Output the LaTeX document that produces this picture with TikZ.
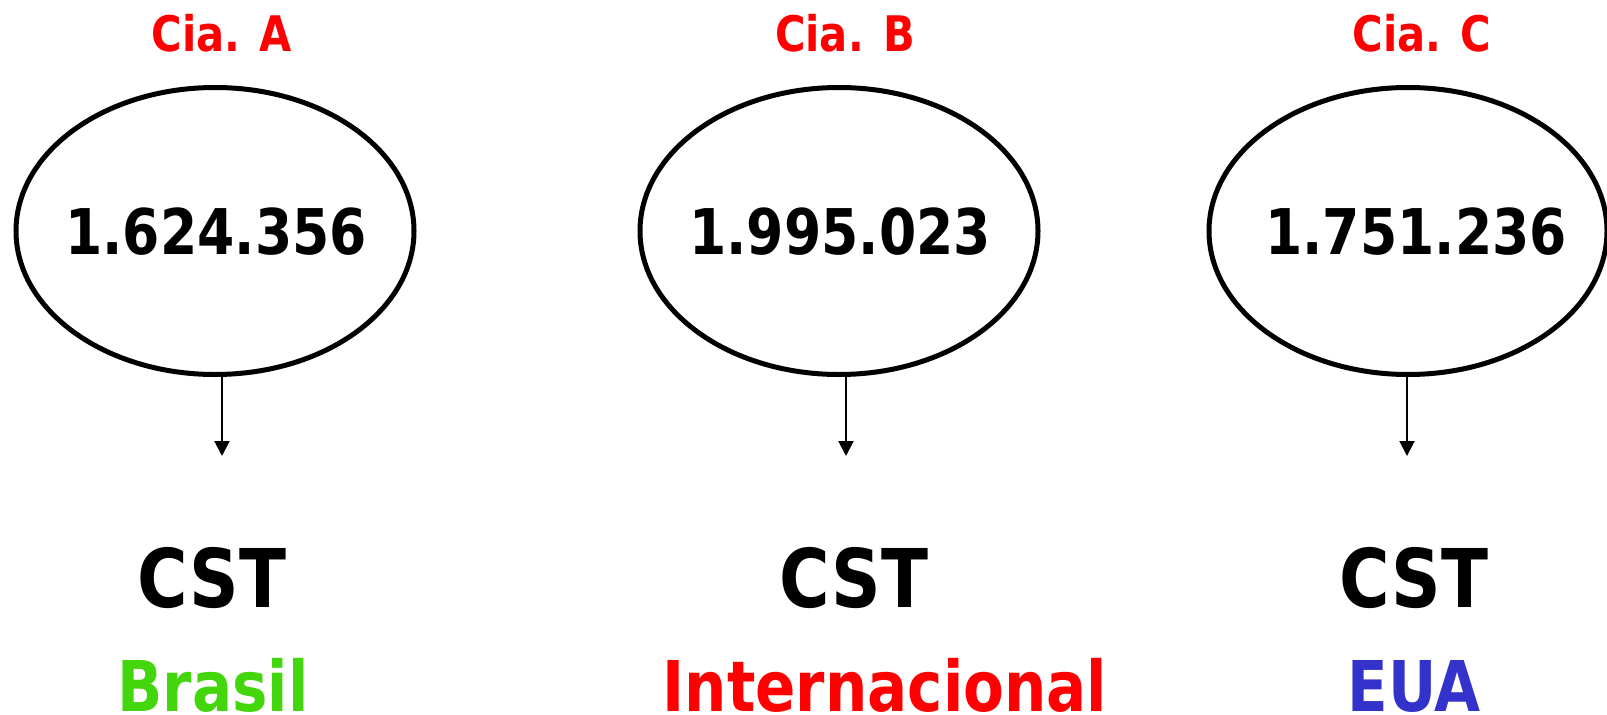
\documentclass[tikz,border=0pt]{standalone}
\usepackage{fontspec}
\setmainfont{DejaVu Sans}[FakeStretch=0.85]
\usetikzlibrary{shapes.geometric,arrows.meta}
\definecolor{ciared}{HTML}{FF0000}
\definecolor{brgreen}{HTML}{44D60C}
\definecolor{euablue}{HTML}{3333CC}
\tikzset{
  x=1pt, y=-1pt,
  cia/.style={anchor=base, text=ciared, font=\bfseries\fontsize{49}{55}\selectfont, inner sep=0},
  oval/.style={ellipse, draw, line width=5pt, minimum width=398pt, minimum height=287pt, inner sep=0},
  num/.style={anchor=base, inner sep=0, font=\bfseries\fontsize{63}{70}\selectfont},
  cst/.style={anchor=base, font=\bfseries\fontsize{81}{90}\selectfont, inner sep=0},
  place/.style={anchor=base, text depth=0pt, font=\bfseries\fontsize{70}{78}\selectfont, inner sep=0},
  arr/.style={line width=2pt, -{Triangle[length=15pt,width=15pt]}}
}
\begin{document}
\begin{tikzpicture}
\useasboundingbox (0,0) rectangle (1607,715);
% ovals
\node[oval] (ea) at (215,231) {};
\node[oval] (eb) at (839,231) {};
\node[oval] (ec) at (1408,231) {};
% numbers
\node[num] (na) at (216,254) {1.624.356};
\node[num] (nb) at (840,254) {1.995.023};
\node[num] (nc) at (1416,254) {1.751.236};
% titles
\node[cia] (ta) at (222,51) {Cia. A};
\node[cia] (tb) at (845,51) {Cia. B};
\node[cia] (tc) at (1422,51) {Cia. C};
% arrow ends
\coordinate (aa) at (222,456);
\coordinate (ab) at (846,456);
\coordinate (ac) at (1407,456);
\draw[arr] (aa |- ea.south) -- (aa);
\draw[arr] (ab |- eb.south) -- (ab);
\draw[arr] (ac |- ec.south) -- (ac);
% CST
\node[cst] (ca) at (212,607) {CST};
\node[cst] (cb) at (854,607) {CST};
\node[cst] (cc) at (1414,607) {CST};
% places
\node[place, text=brgreen] (pa) at (213,711) {Brasil};
\node[place, text=ciared] (pb) at (885,711) {Internacional};
\node[place, text=euablue] (pc) at (1414,711) {EUA};
\end{tikzpicture}
\end{document}
